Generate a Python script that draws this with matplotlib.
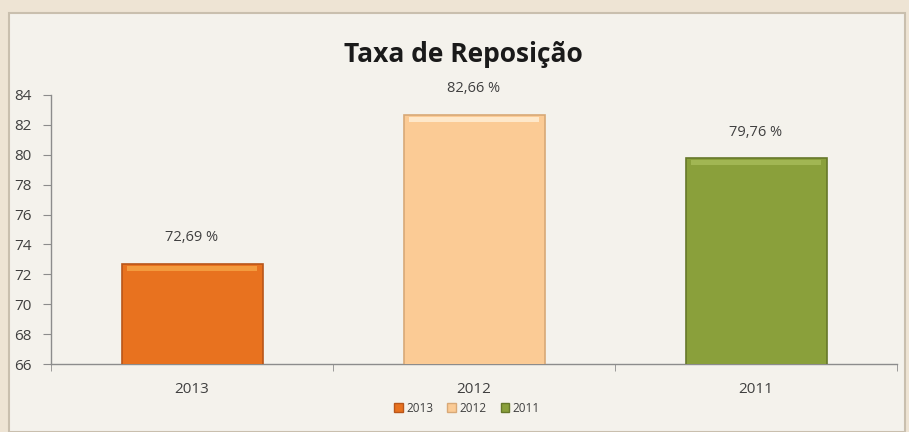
import matplotlib
matplotlib.use("Agg")
import matplotlib.pyplot as plt
from matplotlib.patches import Rectangle, Patch

years = ["2013", "2012", "2011"]
rates = [72.69, 82.66, 79.76]
labels = ["72,69 %", "82,66 %", "79,76 %"]
colors = ["#E8721F", "#FBCB95", "#8AA03B"]
edges = ["#B9561A", "#D8A977", "#66782A"]
tops = ["#F7A646", "#FFF0D8", "#A8BC5A"]
yticks = [66, 68, 70, 72, 74, 76, 78, 80, 82, 84]

fig = plt.figure(figsize=(9.09, 4.32), dpi=100)
fig.patch.set_facecolor("#EEE4D4")
plt.rcParams["font.family"] = ["Open Sans", "DejaVu Sans"]

# inner chart panel
panel = Rectangle((9 / 909, 0), 1 - 13 / 909, 1 - 13 / 432, transform=fig.transFigure,
                  facecolor="#F4F2EC", edgecolor="#C9BFAE", linewidth=1.5, zorder=-10)
fig.patches.append(panel)

ax = fig.add_axes([51 / 909, 1 - 364 / 432, (897 - 51) / 909, (364 - 95) / 432])
ax.set_facecolor("none")
ax.set_zorder(5)

x = list(range(len(years)))
bars = ax.bar(x, rates, width=0.5, color=colors, edgecolor=edges, linewidth=1.2, zorder=3)
# lighter band along the top of each bar
for xi, v, t in zip(x, rates, tops):
    ax.bar(xi, 0.35, bottom=v - 0.45, width=0.46, color=t, linewidth=0, zorder=4, alpha=0.8)

for xi, v, lab in zip(x, rates, labels):
    ax.text(xi, v + 1.75, lab, ha="center", va="center", fontsize=10.5, color="#404040")

ax.set_xlim(-0.5, 2.5)
ax.set_ylim(66, 84)
ax.set_yticks(yticks)
ax.set_xticks(x)
ax.set_xticklabels(years)
ax.set_xticks([-0.5, 0.5, 1.5, 2.5], minor=True)
ax.tick_params(axis="x", which="major", length=0, pad=13, labelsize=11, colors="#404040")
ax.tick_params(axis="x", which="minor", length=5, color="#8C8C8C", direction="out")
ax.tick_params(axis="y", length=6, color="#8C8C8C", labelsize=11, colors="#404040", pad=8)
for s in ["top", "right"]:
    ax.spines[s].set_visible(False)
for s in ["left", "bottom"]:
    ax.spines[s].set_color("#8C8C8C")
    ax.spines[s].set_linewidth(1.0)

fig.text(463 / 909, 1 - 55 / 432, "Taxa de Reposição", ha="center", va="center",
         fontsize=19, fontweight="bold", color="#1A1A1A")

handles = [Patch(facecolor=c, edgecolor=e) for c, e in zip(colors, edges)]
fig.legend(handles, years, loc="center", bbox_to_anchor=(467 / 909, 1 - 408 / 432),
           ncol=3, frameon=False, fontsize=8.5, handlelength=0.7, handleheight=0.7,
           handletextpad=0.3, columnspacing=1.2, labelcolor="#404040")

fig.savefig("out.png", dpi=100, facecolor=fig.get_facecolor())
